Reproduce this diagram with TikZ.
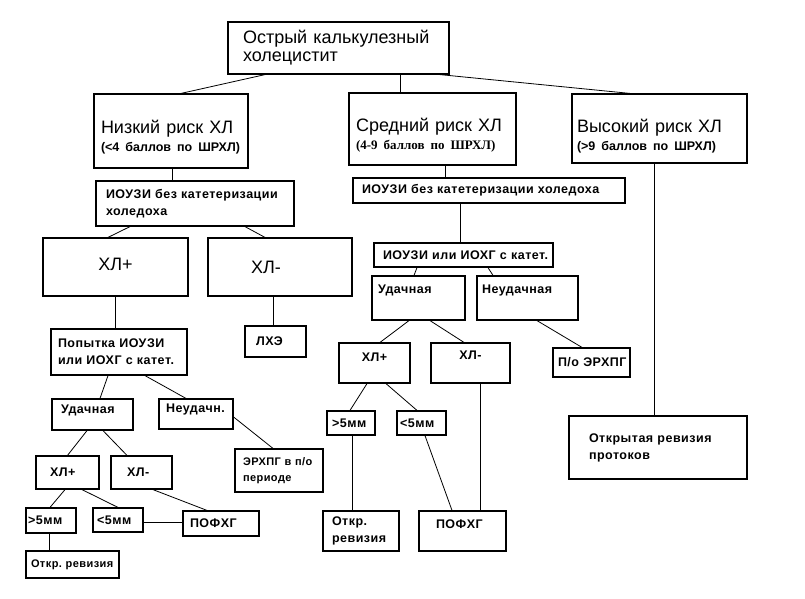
\documentclass[tikz,border=0pt]{standalone}
\usepackage{fontspec}
\setmainfont{Liberation Sans}[BoldFeatures={LetterSpace=4}]
\newfontfamily\plainsans{Liberation Sans}
\newfontfamily\timesfont{Liberation Serif}
\newcommand{\sm}{\bfseries\fontsize{12.5}{17}\selectfont}
\newcommand{\xs}{\bfseries\fontsize{11}{16}\selectfont}
\newcommand{\pts}{\plainsans\bfseries\fontsize{12.5}{17}\selectfont}
\tikzset{
  box/.style={draw, line width=1.2pt, rectangle, inner sep=0pt, align=left, font=\sm},
  bsize/.style n args={3}{minimum width=#1pt, minimum height=#2pt, text width=#3pt},
  big/.style={font=\fontsize{18}{18}\selectfont},
  ln/.style={line width=0.8pt}
}
\begin{document}
\begin{tikzpicture}[x=1pt, y=-1pt]
\useasboundingbox[fill=white] (0,0) rectangle (805,598);
% top levels
\node[box, big, bsize={221}{52}{191}] (acute) at (338.5,48) {Острый~калькулезный\\холецистит};
\node[box, big, bsize={154}{74}{140}, text height=25pt] (low) at (171,131) {Низкий~риск~ХЛ\\{\pts(<4~баллов~по~ШРХЛ)}};
\node[box, big, bsize={167}{72}{153}, text height=25pt] (mid) at (432.5,129) {Средний~риск~ХЛ\\{\timesfont\bfseries\fontsize{13}{17}\selectfont(4-9~баллов~по~ШРХЛ)}};
\node[box, big, bsize={175}{69}{165}, text height=29pt] (high) at (659.5,128.5) {Высокий~риск~ХЛ\\{\pts(>9~баллов~по~ШРХЛ)}};
% low risk
\node[box, bsize={198}{45}{178}] (liouzi) at (195,203.5) {ИОУЗИ~без~катетеризации\\холедоха};
\node[box, big, align=center, bsize={145}{58}{145}, text depth=6pt] (lplus) at (115.5,267) {ХЛ+};
\node[box, big, bsize={144}{58}{58}] (lminus) at (280,267) {ХЛ-};
\node[box, bsize={136}{46}{122}] (attempt) at (119,352) {Попытка~ИОУЗИ\\или~ИОХГ~с~катет.};
\node[box, bsize={61}{31}{39}] (lche) at (275.5,341.5) {ЛХЭ};
\node[box, bsize={81}{31}{63}, text depth=10.5pt] (lsucc) at (92.5,414.5) {Удачная};
\node[box, bsize={74}{30}{60}, text depth=11pt] (lfail) at (196,414) {Неудачн.};
\node[box, font=\xs, bsize={88}{43}{72}] (erhpg) at (279,470.5) {ЭРХПГ~в~п/о\\периоде};
\node[box, bsize={63}{33}{35}] (lplus2) at (67.5,472.5) {ХЛ+};
\node[box, bsize={61}{33}{29}] (lminus2) at (141.5,472.5) {ХЛ-};
\node[box, bsize={50}{25}{46}] (lgt) at (51,520.5) {>5мм};
\node[box, bsize={50}{24}{42}] (llt) at (118,520) {<5мм};
\node[box, bsize={76}{25}{62}] (lpofhg) at (221,523.5) {ПОФХГ};
\node[box, font=\xs, bsize={93}{27}{83}] (lrev) at (72.5,564.5) {Откр.~ревизия};
% middle risk
\node[box, bsize={272}{25}{254}] (miouzi) at (489,190.5) {ИОУЗИ~без~катетеризации~холедоха};
\node[box, bsize={179}{24}{161}] (mcath) at (463.5,255) {ИОУЗИ~или~ИОХГ~с~катет.};
\node[box, bsize={93}{44}{81}, text depth=17.5pt] (msucc) at (418.5,298) {Удачная};
\node[box, bsize={101}{44}{91}, text depth=17.5pt] (mfail) at (527.5,298) {Неудачная};
\node[box, align=center, bsize={71}{40}{71}, text depth=12pt] (mplus) at (374.5,363) {ХЛ+};
\node[box, align=center, bsize={79}{40}{79}, text depth=16pt] (mminus) at (470.5,363) {ХЛ-};
\node[box, bsize={77}{29}{67}] (mpo) at (591.5,362.5) {П/о~ЭРХПГ};
\node[box, bsize={48}{24}{38}] (mgt) at (351,423) {>5мм};
\node[box, bsize={49}{24}{43}] (mlt) at (421.5,423) {<5мм};
\node[box, bsize={76}{40}{58}] (mrev) at (361,531) {Откр.\\ревизия};
\node[box, bsize={87}{40}{53}, text depth=14pt] (mpofhg) at (462.5,531) {ПОФХГ};
% high risk
\node[box, bsize={178}{63}{138}] (hrev) at (658,447.5) {Открытая~ревизия\\протоков};
% connectors
\draw[ln] ([xshift=-73.5pt]acute.south) -- ([xshift=10pt]low.north);
\draw[ln] ([xshift=61.5pt]acute.south) -- ([xshift=-32.5pt]mid.north);
\draw[ln] ([xshift=101.5pt]acute.south) -- ([xshift=-29.5pt]high.north);
\draw[ln] ([xshift=1pt]low.south) -- ([xshift=-23pt]liouzi.north);
\draw[ln] ([xshift=-65pt]liouzi.south) -- ([xshift=-7.5pt]lplus.north);
\draw[ln] ([xshift=50pt]liouzi.south) -- ([xshift=-15pt]lminus.north);
\draw[ln] ([xshift=-0.5pt]lplus.south) -- ([xshift=-4pt]attempt.north);
\draw[ln] ([xshift=-7pt]lminus.south) -- ([xshift=-2.5pt]lche.north);
\draw[ln] ([xshift=-11pt]attempt.south) -- ([xshift=7.5pt]lsucc.north);
\draw[ln] ([xshift=26pt]attempt.south) -- ([xshift=-10pt]lfail.north);
\draw[ln] ([yshift=-3pt]lfail.east) -- ([xshift=-6pt]erhpg.north);
\draw[ln] ([xshift=-5.5pt]lsucc.south) -- (lplus2.north);
\draw[ln] ([xshift=10.5pt]lsucc.south) -- ([xshift=-14.5pt]lminus2.north);
\draw[ln] ([xshift=-2.5pt]lplus2.south) -- ([xshift=-1pt]lgt.north);
\draw[ln] ([xshift=14.5pt]lplus2.south) -- (llt.north);
\draw[ln] ([xshift=11.5pt]lminus2.south) -- ([xshift=-14pt]lpofhg.north);
\draw[ln] ([yshift=-2pt]llt.east) -- ([yshift=1.5pt]lpofhg.west);
\draw[ln] ([xshift=-2pt]lgt.south) -- ([xshift=-23.5pt]lrev.north);
\draw[ln] ([xshift=12.5pt]mid.south) -- ([xshift=-44pt]miouzi.north);
\draw[ln] ([xshift=-29pt]miouzi.south) -- ([xshift=-3.5pt]mcath.north);
\draw[ln] ([xshift=-46.5pt]mcath.south) -- ([xshift=-4.5pt]msucc.north);
\draw[ln] ([xshift=24.5pt]mcath.south) -- ([xshift=-34.5pt]mfail.north);
\draw[ln] ([xshift=-9.5pt]msucc.south) -- ([xshift=5.5pt]mplus.north);
\draw[ln] ([xshift=11.5pt]msucc.south) -- ([xshift=-6.5pt]mminus.north);
\draw[ln] ([xshift=9.5pt]mfail.south) -- ([xshift=-9.5pt]mpo.north);
\draw[ln] ([xshift=-7.5pt]mplus.south) -- ([xshift=-1pt]mgt.north);
\draw[ln] ([xshift=11.5pt]mplus.south) -- ([xshift=-4.5pt]mlt.north);
\draw[ln] ([xshift=1pt]mgt.south) -- ([xshift=-9pt]mrev.north);
\draw[ln] ([xshift=3.5pt]mlt.south) -- ([xshift=-10.5pt]mpofhg.north);
\draw[ln] ([xshift=9.5pt]mminus.south) -- ([xshift=17.5pt]mpofhg.north);
\draw[ln] ([xshift=-5.5pt]high.south) -- ([xshift=-4pt]hrev.north);
\end{tikzpicture}
\end{document}
